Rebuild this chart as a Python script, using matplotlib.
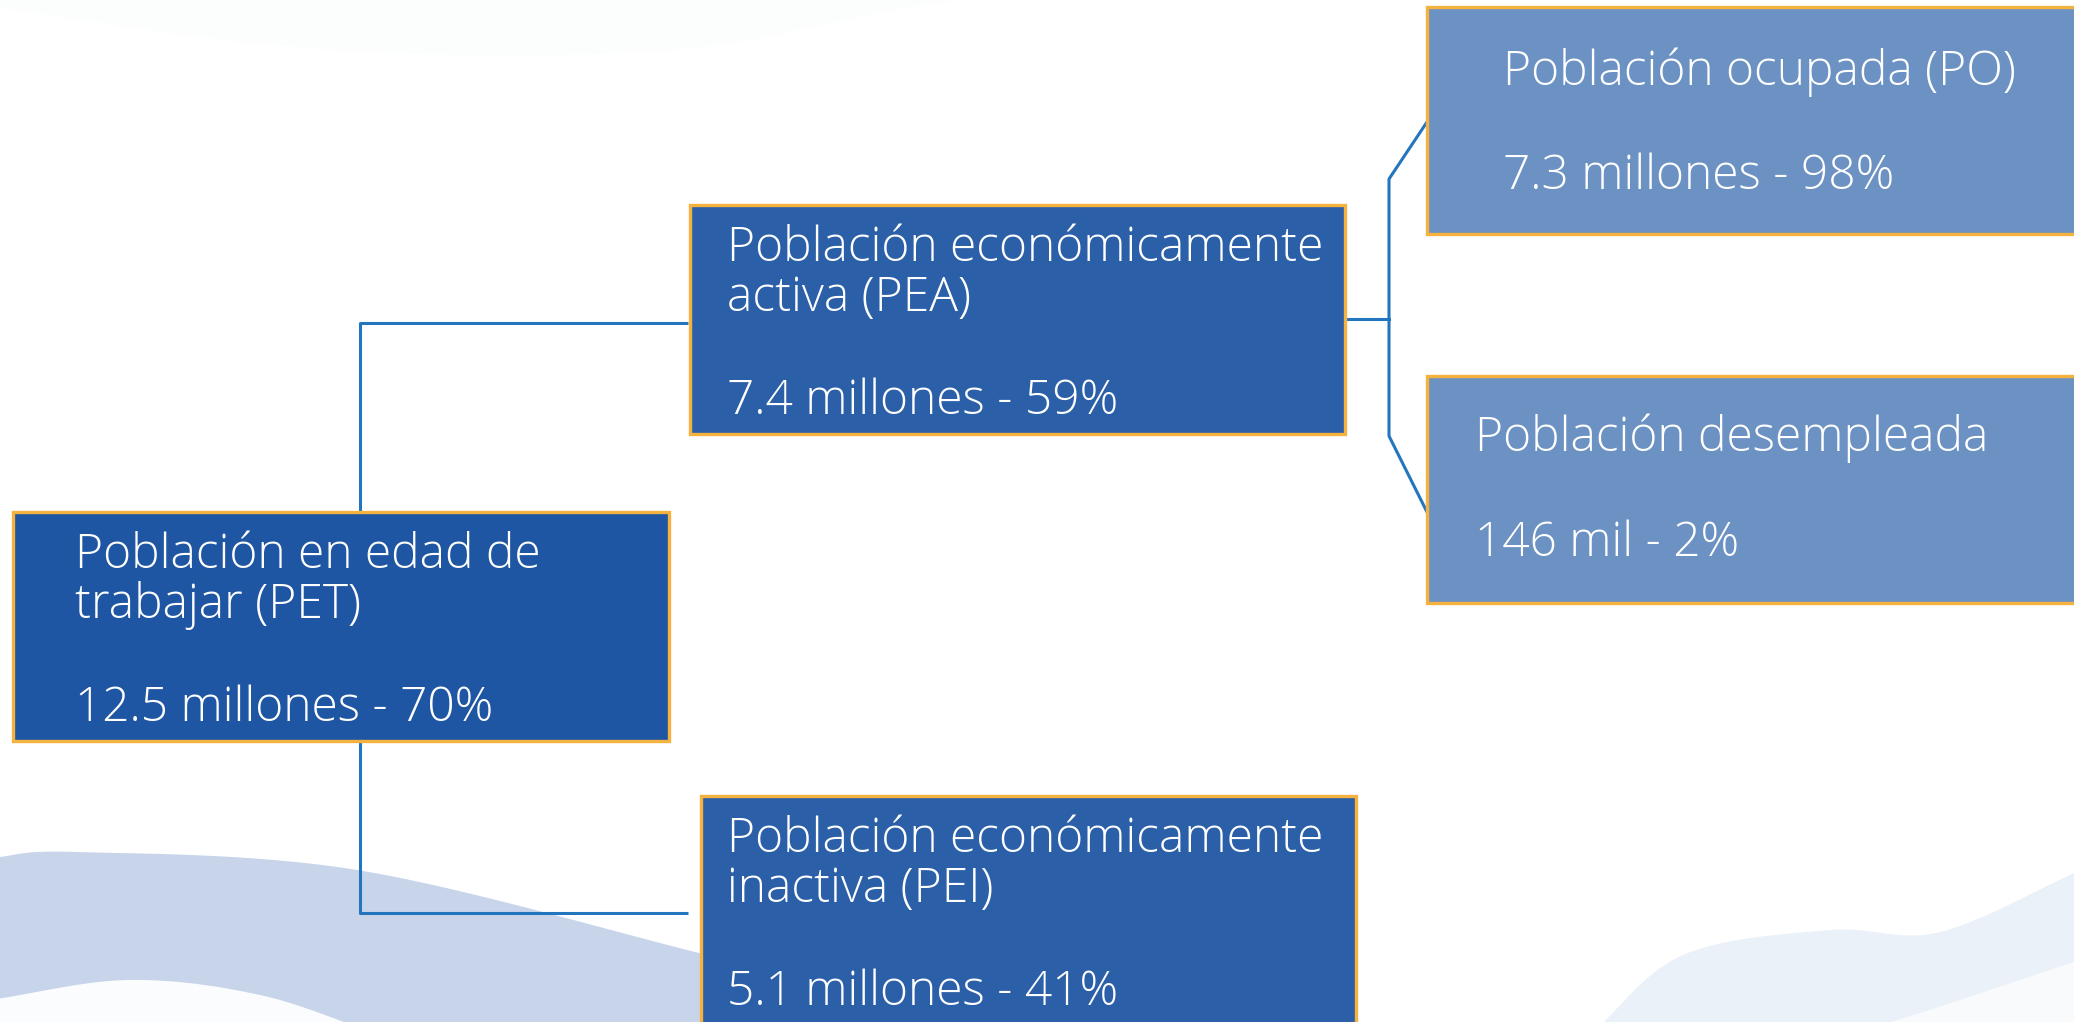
import numpy as np
import matplotlib
matplotlib.use('Agg')
import matplotlib.pyplot as plt
from matplotlib.patches import Rectangle, Polygon

plt.rcParams['font.family'] = ['Open Sans', 'DejaVu Sans']

# node texts (title lines, figure line)
titles = [
    ['Población en edad de', 'trabajar (PET)'],
    ['Población económicamente', 'activa (PEA)'],
    ['Población económicamente', 'inactiva (PEI)'],
    ['Población ocupada (PO)'],
    ['Población desempleada'],
]
values = ['12.5 millones', '7.4 millones', '5.1 millones', '7.3 millones', '146 mil']
shares = ['70%', '59%', '41%', '98%', '2%']

# layout in pixels: x0, y0, x1, y1 (y downward), text left, baselines
boxes = [
    (13, 512, 669, 741),
    (690, 205, 1345, 434),
    (701, 796, 1356, 1030),
    (1427, 7, 2080, 234),
    (1427, 376, 2080, 603),
]
text_x = [75, 727, 727, 1503, 1475]
base_off = [[56, 106, 209], [56, 106, 209], [56, 106, 209], [78, 182], [75, 180]]
fills = ['#1f56a3', '#2b5fa8', '#2b5fa8', '#6c91c3', '#6c91c3']
edge = '#f5b23f'
line_c = '#2376be'

fig = plt.figure(figsize=(20.74, 10.22), dpi=100)
ax = fig.add_axes([0, 0, 1, 1])
ax.set_xlim(0, 2074)
ax.set_ylim(1022, 0)
ax.axis('off')


def spline(ctrl, n=30):
    # Catmull-Rom through the control points
    p = np.array(ctrl, dtype=float)
    p = np.vstack([2 * p[0] - p[1], p, 2 * p[-1] - p[-2]])
    out = []
    t = np.linspace(0, 1, n)[:, None]
    for i in range(1, len(p) - 2):
        p0, p1, p2, p3 = p[i - 1], p[i], p[i + 1], p[i + 2]
        seg = 0.5 * ((2 * p1) + (-p0 + p2) * t + (2 * p0 - 5 * p1 + 4 * p2 - p3) * t ** 2
                     + (-p0 + 3 * p1 - 3 * p2 + p3) * t ** 3)
        out.extend(seg.tolist())
    return out


def blob(pts, color, z=0):
    ax.add_patch(Polygon(pts, closed=True, fc=color, ec='none', zorder=z))


# background swooshes
upper = spline([(-10, 858), (77, 852), (357, 870), (699, 953), (900, 1005), (1060, 1035)])
blob(upper + [(-10, 1035)], '#c7d4e9')
blob(spline([(-10, 1000), (128, 980), (260, 995), (380, 1035)]) + [(-10, 1035)], '#fbfcfe')

blob(spline([(1590, 1035), (1683, 955), (1830, 930), (1940, 932), (2085, 868)]) + [(2085, 1035)],
     '#eaf1f9')
blob(spline([(1850, 1035), (1960, 1000), (2085, 958)]) + [(2085, 1035)], '#f8fafc')

blob(spline([(-10, 0), (0, 7), (255, 43), (478, 55), (700, 47), (893, 10), (1000, -5)]),
     '#fcfdfd')

# connectors
lw = 2.2
ax.plot([688, 360, 360], [323, 323, 512], color=line_c, lw=lw, zorder=1, solid_capstyle='butt')
ax.plot([360, 360, 688], [741, 913, 913], color=line_c, lw=lw, zorder=1, solid_capstyle='butt')
ax.plot([1345, 1389], [319, 319], color=line_c, lw=lw, zorder=1)
ax.plot([1427, 1389, 1389, 1427], [122, 179, 436, 512], color=line_c, lw=lw, zorder=1)

# boxes and texts
for i, (x0, y0, x1, y1) in enumerate(boxes):
    ax.add_patch(Rectangle((x0, y0), x1 - x0, y1 - y0, fc=fills[i], ec=edge, lw=2.4, zorder=2))
    lines = titles[i] + [values[i] + ' - ' + shares[i]]
    for ln, off in zip(lines, base_off[i]):
        ax.text(text_x[i], y0 + off, ln, color='white', fontsize=34.5, fontweight='light',
                va='baseline', ha='left', zorder=3)

fig.savefig('out.png', dpi=100)
